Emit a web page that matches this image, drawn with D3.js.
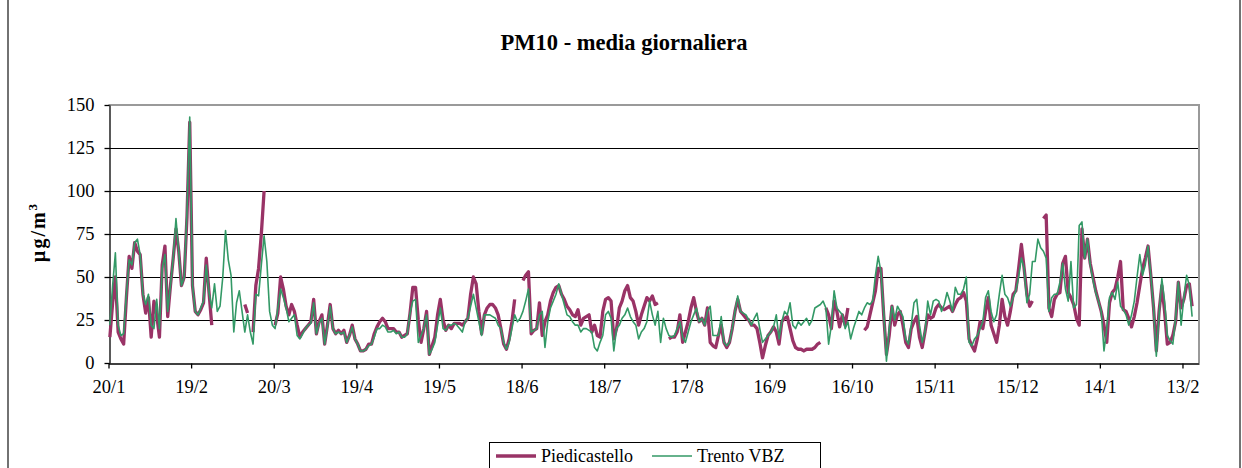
<!DOCTYPE html>
<html>
<head>
<meta charset="utf-8">
<script src="https://cdn.jsdelivr.net/npm/d3@7"></script>
<style>
  body { margin: 0; background: #fff; }
  svg { display: block; font-family: "Liberation Serif", "Times New Roman", serif; }
</style>
</head>
<body>
<svg id="chart" width="1242" height="468"></svg>
<script>
// first day of the series, one value per day after it
const startDate = '2004-01-20';
const dayCount = 396;

const tickLabels = ['20/1', '19/2', '20/3', '19/4', '19/5', '18/6', '18/7',
  '17/8', '16/9', '16/10', '15/11', '15/12', '14/1', '13/2'];
const yTicks = [0, 25, 50, 75, 100, 125, 150];

// PM10 daily mean, µg/m3 (null = no data)
const piedicastello = [
  /*0*/ 15, 35, 50, 18, 14, 11, 38, 62, 55, 70,
  /*10*/ 65, 63, 40, 29, 38, 15, 36, 28, 15, 57,
  /*20*/ 68, 27, 45, 61, 78, 65, 45, 50, 85, 140,
  /*30*/ 45, 30, 28, 31, 35, 61, 41, 22, null, null,
  /*40*/ null, null, null, null, null, null, null, null, null, 34,
  /*50*/ 29, null, 18, 45, 55, 75, 100, null, null, null,
  /*60*/ 22, 29, 50, 43, 33, 28, 34, 30, 22, 15,
  /*70*/ 18, 20, 22, 24, 37, 17, 24, 28, 11, 22,
  /*80*/ 34, 20, 17, 19, 17, 19, 12, 16, 22, 14,
  /*90*/ 11, 7, 7, 8, 11, 11, 17, 21, 24, 26,
  /*100*/ 24, 20, 20, 20, 18, 18, 15, 16, 17, 29,
  /*110*/ 44, 44, 25, 12, 20, 30, 5, 10, 15, 28,
  /*120*/ 37, 25, 19, 22, 20, 23, 23, 23, 22, 24,
  /*130*/ 26, 40, 50, 46, 30, 17, 28, 32, 34, 34,
  /*140*/ 32, 28, 20, 11, 8, 14, 24, 37, null, null,
  /*150*/ 48, 51, 53, 17, 19, 20, 35, 16, 24, 28,
  /*160*/ 36, 41, 44, 45, 40, 37, 33, 31, 28, 27,
  /*170*/ 31, 22, 26, 27, 28, 18, 22, 16, 15, 30,
  /*180*/ 37, 38, 36, 14, 20, 32, 36, 42, 45, 38,
  /*190*/ 36, 30, 22, 28, 33, 38, 36, 39, 34, 35,
  /*200*/ null, null, null, 14, 15, 15, 18, 28, 12, 18,
  /*210*/ 24, 32, 38, 30, 24, 26, 22, 32, 12, 10,
  /*220*/ 9, 16, 22, 12, 9, 12, 20, 30, 37, 30,
  /*230*/ 28, 26, 25, 22, 22, 20, 12, 3, 10, 16,
  /*240*/ 18, 21, 18, 11, 24, 26, 27, 20, 13, 9,
  /*250*/ 8, 8, 7, 8, 8, 8, 9, 11, 12, null,
  /*260*/ 32, 28, 20, 36, 30, 21, 28, 22, 32, null,
  /*270*/ null, null, null, null, 19, 21, 28, 35, 42, 55,
  /*280*/ 55, 28, 5, 16, 33, 22, 28, 30, 22, 12,
  /*290*/ 9, 20, 24, 27, 15, 9, 18, 28, 26, 27,
  /*300*/ 32, 34, 32, 31, 32, 33, 30, 34, 37, 38,
  /*310*/ 41, 36, 14, 10, 7, 14, 24, 20, 30, 38,
  /*320*/ 22, 17, 12, 22, 37, 27, 22, 30, 40, 42,
  /*330*/ 55, 69, 55, 40, 33, 36, null, null, null, 84,
  /*340*/ 86, 32, 27, 37, 40, 41, 58, 62, 41, 38,
  /*350*/ 34, 26, 22, 78, 61, 72, 58, 50, 42, 36,
  /*360*/ 30, 22, 12, 35, 41, 43, 50, 59, 31, 30,
  /*370*/ 26, 21, 27, 35, 45, 55, 61, 68, 51, 32,
  /*380*/ 7, 30, 45, 30, 11, 12, 16, 24, 47, 32,
  /*390*/ 37, 45, 46, 33
];

const trentoVBZ = [
  /*0*/ 22, 45, 64, 22, 16, 17, 40, 60, 57, 70,
  /*10*/ 72, 63, 40, 34, 40, 22, 20, 37, 20, 55,
  /*20*/ 63, 30, 45, 61, 84, 65, 45, 50, 88, 143,
  /*30*/ 45, 30, 28, 32, 36, 57, 41, 32, 46, 30,
  /*40*/ 33, 50, 77, 60, 51, 18, 35, 42, 30, 18,
  /*50*/ 28, 18, 11, 40, 39, 57, 74, 59, 30, 22,
  /*60*/ 20, 32, 43, 38, 32, 24, 26, 28, 16, 14,
  /*70*/ 17, 20, 22, 23, 35, 17, 23, 26, 11, 21,
  /*80*/ 33, 20, 17, 18, 17, 18, 12, 16, 21, 14,
  /*90*/ 11, 7, 7, 8, 10, 11, 15, 20, 20, 22,
  /*100*/ 21, 18, 18, 19, 17, 18, 15, 15, 17, 29,
  /*110*/ 36, 37, 12, 16, 20, 28, 5, 8, 12, 22,
  /*120*/ 32, 20, 19, 22, 22, 23, 22, 20, 18, 24,
  /*130*/ 26, 33, 40, 32, 24, 16, 28, 28, 28, 27,
  /*140*/ 26, 22, 20, 12, 8, 12, 20, 28, 24, 26,
  /*150*/ 30, 36, 43, 18, 19, 20, 28, 30, 9, 24,
  /*160*/ 32, 36, 40, 46, 40, 34, 28, 27, 24, 22,
  /*170*/ 22, 18, 20, 20, 19, 18, 9, 7, 12, 16,
  /*180*/ 28, 30, 26, 7, 20, 22, 26, 28, 32, 27,
  /*190*/ 24, 22, 14, 18, 20, 24, 36, 28, 22, 30,
  /*200*/ 12, 26, 20, 16, 15, 16, 20, 24, 15, 12,
  /*210*/ 18, 24, 28, 32, 24, 26, 22, 30, 33, 16,
  /*220*/ 16, 16, 27, 12, 10, 12, 20, 30, 39, 30,
  /*230*/ 29, 28, 25, 22, 26, 29, 20, 12, 14, 16,
  /*240*/ 18, 21, 28, 14, 24, 30, 28, 35, 22, 20,
  /*250*/ 24, 22, 24, 26, 22, 25, 32, 33, 34, 36,
  /*260*/ 32, 11, 22, 42, 32, 30, 28, 20, 24, 14,
  /*270*/ 20, 25, 30, 28, 32, 35, 34, 36, 51, 62,
  /*280*/ 53, 30, 1, 20, 33, 25, 33, 30, 27, 14,
  /*290*/ 11, 22, 35, 37, 22, 12, 18, 36, 28, 36,
  /*300*/ 37, 36, 30, 34, 41, 36, 30, 44, 40, 40,
  /*310*/ 43, 50, 12, 10, 14, 16, 20, 24, 38, 42,
  /*320*/ 30, 24, 28, 40, 51, 40, 38, 33, 38, 42,
  /*330*/ 50, 61, 55, 35, 40, 59, 59, 72, 67, 65,
  /*340*/ 61, 30, 38, 40, 40, 47, 58, 43, 36, 59,
  /*350*/ 32, 34, 80, 82, 61, 72, 57, 48, 41, 36,
  /*360*/ 30, 7, 20, 38, 41, 37, 47, 33, 31, 28,
  /*370*/ 22, 28, 36, 50, 63, 51, 57, 68, 51, 32,
  /*380*/ 4, 28, 49, 36, 16, 13, 11, 26, 47, 22,
  /*390*/ 38, 51, 45, 27
];

const series = [
  { name: 'Piedicastello', values: piedicastello, color: '#993366', width: 3.3 },
  { name: 'Trento VBZ', values: trentoVBZ, color: '#339966', width: 1.6 }
];

const t0 = d3.utcParse('%Y-%m-%d')(startDate);
const dates = piedicastello.map((_, i) => d3.utcDay.offset(t0, i));

const svg = d3.select('#chart');

// outer chart frame
svg.append('rect')
  .attr('x', 8).attr('y', -5)
  .attr('width', 1232).attr('height', 520)
  .attr('fill', '#fff')
  .attr('stroke', '#444')
  .attr('stroke-width', 1.5);

// Scales
const x = d3.scaleUtc()
  .domain([t0, d3.utcDay.offset(t0, dayCount)])
  .range([108.5, 1199]);
const y = d3.scaleLinear()
  .domain([0, 150])
  .range([363, 105]);

// Gridlines
svg.append('g')
  .selectAll('line')
  .data(yTicks.filter(v => v > 0))
  .join('line')
  .attr('x1', x.range()[0]).attr('x2', x.range()[1])
  .attr('y1', d => Math.round(y(d)) + 0.5)
  .attr('y2', d => Math.round(y(d)) + 0.5)
  .attr('stroke', '#000')
  .attr('stroke-width', 1);

// plot area border (top / right)
svg.append('path')
  .attr('d', `M${x.range()[0]},${y(150)}H${x.range()[1]}V${y(0)}`)
  .attr('fill', 'none')
  .attr('stroke', '#9a9a9a')
  .attr('stroke-width', 2);

// Axes
const tickDates = tickLabels.map((_, k) => d3.utcDay.offset(t0, k * 30));
const xAxis = svg.append('g')
  .attr('transform', `translate(0,${Math.round(y(0)) + 0.5})`)
  .call(d3.axisBottom(x)
    .tickValues(tickDates)
    .tickFormat((d, i) => tickLabels[i])
    .tickSize(5)
    .tickSizeOuter(0)
    .tickPadding(11));

const yAxis = svg.append('g')
  .attr('transform', `translate(${Math.round(x.range()[0]) + 0.5},0)`)
  .call(d3.axisLeft(y)
    .tickValues(yTicks)
    .tickSize(5)
    .tickSizeOuter(0)
    .tickPadding(10));

[xAxis, yAxis].forEach(g => {
  g.attr('font-family', null).attr('font-size', null);
  g.select('.domain').attr('stroke', '#000').attr('stroke-width', 1.3);
  g.selectAll('.tick line').attr('stroke', '#000').attr('stroke-width', 1.3);
  g.selectAll('.tick text')
    .attr('fill', '#000')
    .style('font-family', '"Liberation Serif", "Times New Roman", serif')
    .style('font-size', '18.5px');
});

// Lines
const mid = d => d3.utcHour.offset(d, 12);
series.forEach(s => {
  const line = d3.line()
    .defined(d => d != null)
    .x((d, i) => x(mid(dates[i])))
    .y(d => y(d));
  svg.append('path')
    .datum(s.values)
    .attr('fill', 'none')
    .attr('stroke', s.color)
    .attr('stroke-width', s.width)
    .attr('stroke-linejoin', 'round')
    .attr('d', line);
});

// Title
svg.append('text')
  .attr('x', 624).attr('y', 50)
  .attr('text-anchor', 'middle')
  .style('font-weight', 'bold')
  .style('font-size', '22.5px')
  .text('PM10 - media giornaliera');

// Y label
const yLabel = svg.append('text')
  .attr('transform', 'translate(45,232) rotate(-90)')
  .attr('text-anchor', 'middle')
  .style('font-weight', 'bold')
  .style('font-size', '20px')
  .style('letter-spacing', '2px');
yLabel.append('tspan').text('µg/m');
yLabel.append('tspan').attr('dy', -8).style('font-size', '13px').text('3');

// Legend
const legend = svg.append('g');
legend.append('rect')
  .attr('x', 489.5).attr('y', 442.5)
  .attr('width', 331).attr('height', 40)
  .attr('fill', '#fff')
  .attr('stroke', '#000')
  .attr('stroke-width', 1);
const legendX = [496, 652];
series.forEach((s, i) => {
  legend.append('line')
    .attr('x1', legendX[i]).attr('x2', legendX[i] + 40)
    .attr('y1', 456).attr('y2', 456)
    .attr('stroke', s.color)
    .attr('stroke-width', s.width);
  legend.append('text')
    .attr('x', legendX[i] + 45).attr('y', 462)
    .style('font-size', '18px')
    .text(s.name);
});
</script>
</body>
</html>
